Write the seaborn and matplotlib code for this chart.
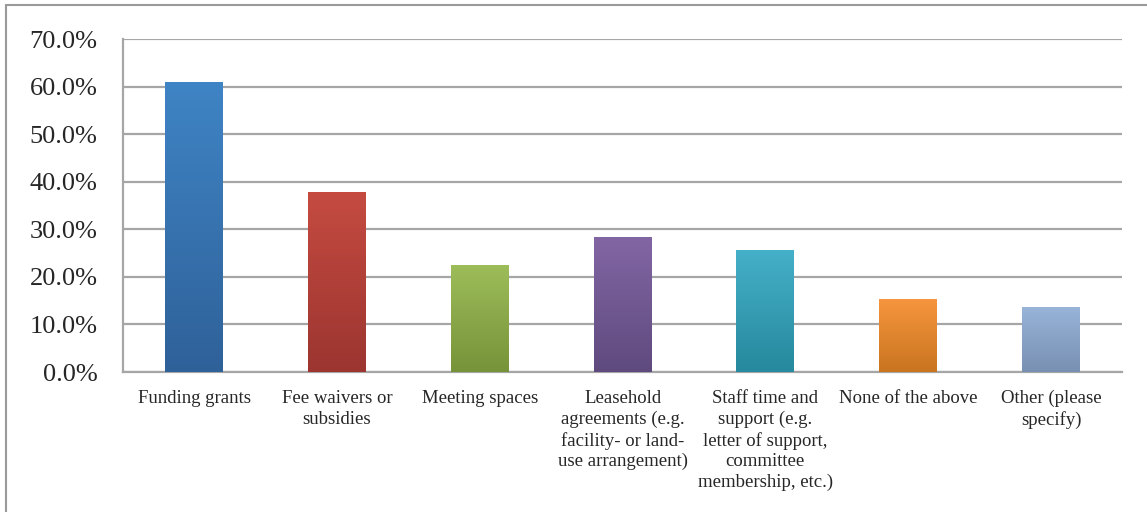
import numpy as np
import pandas as pd
import matplotlib
matplotlib.use("Agg")
import matplotlib.pyplot as plt
import matplotlib.patches as mpatches
from matplotlib.colors import LinearSegmentedColormap
import seaborn as sns

categories = [
    "Funding grants",
    "Fee waivers or\nsubsidies",
    "Meeting spaces",
    "Leasehold\nagreements (e.g.\nfacility- or land-\nuse arrangement)",
    "Staff time and\nsupport (e.g.\nletter of support,\ncommittee\nmembership, etc.)",
    "None of the above",
    "Other (please\nspecify)",
]
values = [0.609, 0.378, 0.226, 0.283, 0.257, 0.154, 0.137]
top_colors = ["#3f84c5", "#c54b41", "#9dbd59", "#8266a4", "#45b0c9", "#f7963f", "#98b4d9"]
bottom_colors = ["#2f6199", "#9c3530", "#77933a", "#5f4a7e", "#26899d", "#c9741f", "#7890b2"]
yticks = [0, 0.1, 0.2, 0.3, 0.4, 0.5, 0.6, 0.7]

sns.set_style("white")
plt.rcParams["font.family"] = ["Liberation Serif", "DejaVu Serif"]

df = pd.DataFrame({"category": categories, "value": values})

fig = plt.figure(figsize=(11.47, 5.12), dpi=100)
ax = fig.add_axes([0.1069, 0.2734, 0.8717, 0.6504])

sns.barplot(data=df, x="category", y="value", width=0.406, color="white",
            linewidth=0, ax=ax, zorder=3)

# vertical gradient fill for each bar
grad = np.linspace(0, 1, 256).reshape(-1, 1)
for patch, c_top, c_bot in zip(ax.patches, top_colors, bottom_colors):
    x0, y0 = patch.get_x(), patch.get_y()
    w, h = patch.get_width(), patch.get_height()
    cmap = LinearSegmentedColormap.from_list("g", [c_bot, c_top])
    im = ax.imshow(grad, cmap=cmap, origin="lower", aspect="auto",
                   extent=[x0, x0 + w, y0, y0 + h], zorder=3)
    im.set_clip_path(patch)

ax.set_xlim(-0.5, len(categories) - 0.5)
ax.set_ylim(0, 0.7)
ax.set_yticks(yticks)
ax.set_yticklabels([f"{t*100:.1f}%" for t in yticks], fontsize=19)
ax.yaxis.grid(True, color="#a6a6a6", linewidth=1.6, zorder=0)
ax.set_axisbelow(True)
ax.set_xlabel("")
ax.set_ylabel("")
ax.set_xticks(range(len(categories)))
ax.set_xticklabels(categories, fontsize=13.5, linespacing=1.27, va="top")
ax.set_xticks(np.arange(-0.5, len(categories)), minor=True)
ax.tick_params(axis="x", which="major", length=0, pad=13)
ax.tick_params(axis="x", which="minor", length=5, color="#a6a6a6", width=1.6)
ax.tick_params(axis="y", length=6, color="#a6a6a6", width=1.6, pad=12)

for side in ["top", "right"]:
    ax.spines[side].set_visible(False)
for side in ["left", "bottom"]:
    ax.spines[side].set_color("#a6a6a6")
    ax.spines[side].set_linewidth(1.6)

# outer chart frame
frame = mpatches.Rectangle((0.0052, -0.1), 1.2, 1.0912, transform=fig.transFigure,
                           fill=False, edgecolor="#9a9a9a", linewidth=1.5)
fig.patches.append(frame)

fig.savefig("out.png", dpi=100)
